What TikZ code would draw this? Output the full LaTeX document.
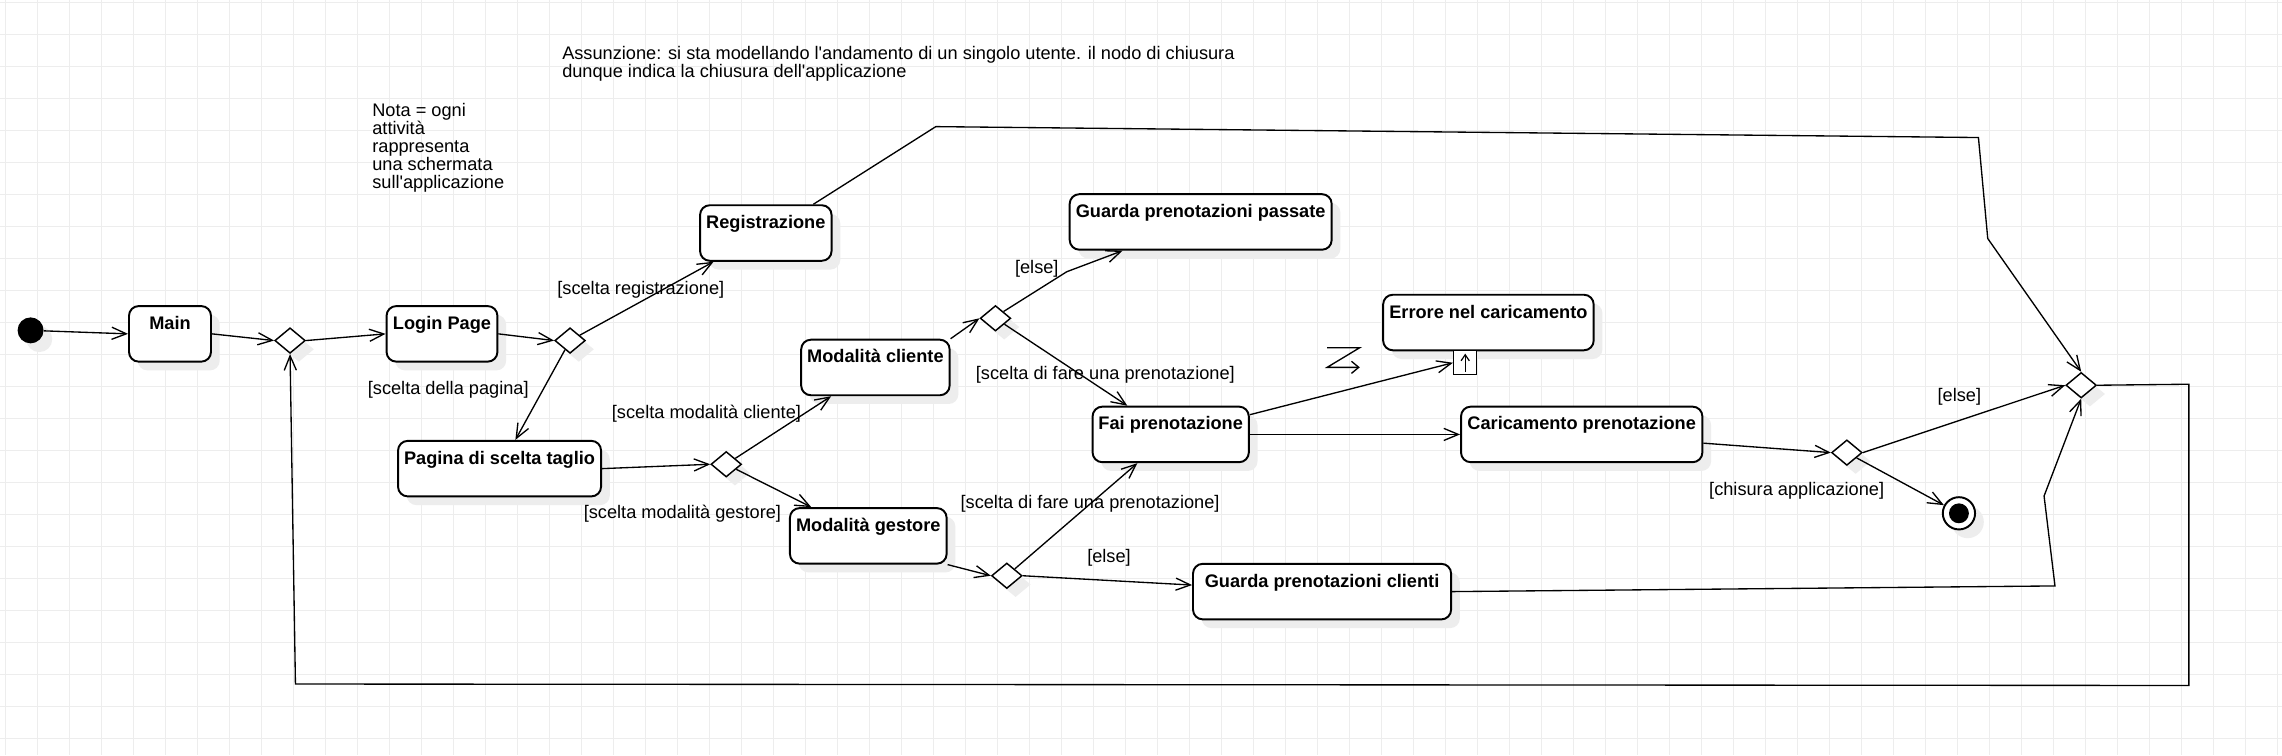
\documentclass[tikz,border=0pt]{standalone}
\usepackage{fontspec}
\setmainfont{Liberation Sans}
\usetikzlibrary{arrows.meta,shapes.geometric,shadows}

\begin{document}
\begin{tikzpicture}[
    x=0.6pt, y=-0.6pt,
    every node/.style={font=\fontsize{7.5}{7.5}\selectfont, inner sep=0pt},
    actbox/.style={draw, line width=0.8pt, fill=white, rounded corners=4pt,
        font=\fontsize{7.5}{7.5}\selectfont\bfseries,
        text height=9.6pt, text depth=13.3pt,
        drop shadow={shadow xshift=3.6pt, shadow yshift=-3.6pt, fill=black!7, opacity=1}},
    decision/.style={diamond, draw, line width=0.6pt, fill=white,
        minimum width=12.6pt, minimum height=10.5pt,
        drop shadow={shadow xshift=3.6pt, shadow yshift=-3.6pt, fill=black!7, opacity=1}},
    startnode/.style={circle, fill=black, minimum size=10.7pt,
        drop shadow={shadow xshift=3.6pt, shadow yshift=-3.6pt, fill=black!7, opacity=1}},
    endnode/.style={circle, draw, line width=0.8pt, fill=white, minimum size=13.3pt,
        drop shadow={shadow xshift=3.6pt, shadow yshift=-3.6pt, fill=black!7, opacity=1}},
    pinbox/.style={draw, line width=0.6pt, fill=white, minimum width=9.5pt, minimum height=9.9pt},
    guard/.style={anchor=center},
    note/.style={align=left, anchor=north west},
    edge/.style={-{Straight Barb[length=6pt,width=5pt]}, line width=0.55pt},
    gridline/.style={black!7, line width=0.4pt}
]
% background and grid
\fill[white] (0,0) rectangle (1568,519);
\useasboundingbox (0,0) rectangle (1568,519);
\foreach \k in {0,...,71}
    \draw[gridline] ({3.5+21.99*\k},0) -- ({3.5+21.99*\k},519);
\foreach \k in {0,...,23}
    \draw[gridline] (0,{1.8+21.99*\k}) -- (1568,{1.8+21.99*\k});

% notes
\node[note] (assunzione) at (386,31.5)
    {Assunzione: si sta modellando l\textquotesingle andamento di un singolo utente. il nodo di chiusura\\
     dunque indica la chiusura dell\textquotesingle applicazione};
\node[note] (nota) at (255.5,70.4)
    {Nota = ogni\\attività\\rappresenta\\una schermata\\sull\textquotesingle applicazione};

% activities
\node[startnode] (start) at (21,227) {};
\node[actbox, minimum width=33.8pt] (main) at (116.8,229.4) {Main};
\node[decision] (d1) at (199.3,234) {};
\node[actbox, minimum width=45.7pt] (login) at (303.7,229.4) {Login Page};
\node[decision] (d2) at (391.7,234) {};
\node[actbox, minimum width=54.2pt] (reg) at (526.2,160.1) {Registrazione};
\node[actbox, minimum width=83.7pt] (taglio) at (343.25,322) {Pagina di scelta taglio};
\node[decision] (d3) at (499,319) {};
\node[actbox, minimum width=61.2pt] (cliente) at (601.5,252.5) {Modalità cliente};
\node[actbox, minimum width=64.6pt] (gestore) at (596.6,368.2) {Modalità gestore};
\node[decision] (d4) at (684,218.7) {};
\node[decision] (d5) at (691.8,395.6) {};
\node[actbox, minimum width=108pt] (passate) at (825,152.5) {Guarda prenotazioni passate};
\node[actbox, minimum width=64.4pt] (fai) at (804.4,298.5) {Fai prenotazione};
\node[actbox, minimum width=86.8pt] (errore) at (1022.7,221.6) {Errore nel caricamento};
\node[pinbox, anchor=north] (pin) at (1006.75,240.5) {};
\node[actbox, minimum width=99.5pt] (carica) at (1086.8,298.5) {Caricamento prenotazione};
\node[actbox, minimum width=106.4pt] (clienti) at (908.4,406.5) {Guarda prenotazioni clienti};
\node[decision] (d6) at (1269,311) {};
\node[decision] (d7) at (1430,264.7) {};
\node[endnode] (stop) at (1346,352.7) {};
\fill (stop.center) circle (4.1pt);

% guards
\node[guard] (gpagina) at (308,268) {[scelta della pagina]};
\node[guard] (greg) at (440.3,199.3) {[scelta registrazione]};
\node[guard] (gcliente) at (485.4,284) {[scelta modalità cliente]};
\node[guard] (ggestore) at (468.9,352.7) {[scelta modalità gestore]};
\node[guard] (gelse1) at (712.4,185) {[else]};
\node[guard] (gfare1) at (759.5,257.7) {[scelta di fare una prenotazione]};
\node[guard] (gfare2) at (749,346.3) {[scelta di fare una prenotazione]};
\node[guard] (gelse2) at (762,383.6) {[else]};
\node[guard] (gelse3) at (1346.3,272.5) {[else]};
\node[guard] (gchiusura) at (1234.5,337.4) {[chisura applicazione]};

% exception pin and interrupt mark
\draw[-{Straight Barb[length=2.5pt,width=3.4pt]}, line width=0.5pt]
    ([yshift=1.5pt]pin.south) -- ([yshift=-1.5pt]pin.north);
\draw[-{Straight Barb[length=3pt,width=5pt]}, line width=0.55pt]
    (911.9,238.9) -- (934.3,238.9) -- (911.9,252.4) -- (934.3,252.4);

% flows
\draw[edge] (start) -- (main.west);
\draw[edge] (main.east) -- (d1.west);
\draw[edge] (d1.east) -- (login.west);
\draw[edge] (login.east) -- (d2.west);
\draw[edge] (d2) -- (reg);
\draw[edge] (d2) -- (taglio);
\draw[edge] (taglio.east) -- (d3.west);
\draw[edge] (d3) -- (cliente);
\draw[edge] (d3) -- (gestore);
\draw[edge] (cliente.north east) -- (d4.west);
\draw[edge] (d4.north east) -- (733,186.7) -- ([xshift=22.2pt]passate.south west);
\draw[edge] (d4) -- (fai);
\draw[edge] (gestore.south east) -- (d5.west);
\draw[edge] (d5) -- (fai);
\draw[edge] (d5.east) -- ([yshift=2.7pt]clienti.west);
\draw[edge] (fai.14) -- (pin.west);
\draw[edge] (fai.east) -- (carica.west);
\draw[edge] ([yshift=-3.6pt]carica.east) -- (d6.west);
\draw[edge] (d6.east) -- (d7.west);
\draw[edge] (d6) -- (stop);
\draw[edge] ([xshift=-7.9pt]reg.north east) -- (643,87) -- (1359.4,94.5)
    -- (1365.8,163.9) -- (d7.north);
\draw[edge] (clienti.east) -- (1412,402.6) -- (1404.5,340.8) -- (d7.south);
\draw[edge] (d7.east) -- (1504,264) -- (1504,471) -- (203,470) -- (d1.south);
\end{tikzpicture}
\end{document}
